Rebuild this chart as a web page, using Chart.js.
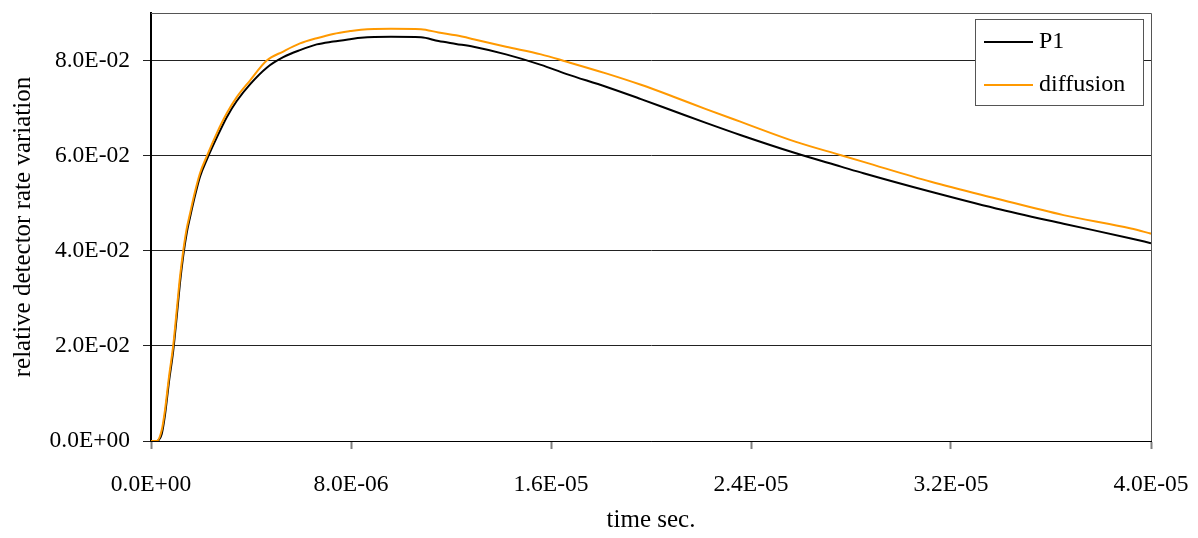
<!DOCTYPE html>
<html>
<head>
<meta charset="utf-8">
<script src="https://cdn.jsdelivr.net/npm/chart.js@4.4.1/dist/chart.umd.min.js"></script>
<style>
  html, body { margin: 0; padding: 0; background: #ffffff; }
  #c { display: block; }
</style>
</head>
<body>
<canvas id="c" width="1198" height="538"></canvas>
<script>
// ---- data (time in microseconds, values = relative detector rate variation) ----
const timeMicroSec = [0, 0.23, 0.43, 0.56, 0.72, 0.89, 1.03, 1.16, 1.29, 1.43, 1.56, 1.76, 1.96, 2.25, 2.63, 3.03, 3.43, 3.96, 4.63, 5.29, 5.96, 6.63, 7.29, 7.96, 8.4, 9.6, 10.8, 11.5, 12.2, 12.9, 14.2, 15.6, 16.6, 18.2, 19.6, 20.9, 22.2, 23.6, 25.8, 27.6, 28.5, 31.2, 33.8, 36.5, 39.2, 40];
const p1Values = [0, 0, 0.0015, 0.0055, 0.0125, 0.0190, 0.0262, 0.0333, 0.0390, 0.0438, 0.0470, 0.0516, 0.0556, 0.0594, 0.0638, 0.0681, 0.0715, 0.0750, 0.0785, 0.0807, 0.0822, 0.0834, 0.0840, 0.0845, 0.0848, 0.0850, 0.0849, 0.0841, 0.0835, 0.0829, 0.0813, 0.0791, 0.0772, 0.0745, 0.0719, 0.0694, 0.0669, 0.0643, 0.0605, 0.0577, 0.0563, 0.0524, 0.0489, 0.0457, 0.0426, 0.0416];
const diffusionValues = [0, 0, 0.0023, 0.0065, 0.0135, 0.0201, 0.0275, 0.0345, 0.0400, 0.0447, 0.0478, 0.0524, 0.0563, 0.0601, 0.0647, 0.0689, 0.0723, 0.0758, 0.0800, 0.0819, 0.0836, 0.0847, 0.0856, 0.0862, 0.0865, 0.0867, 0.0866, 0.0859, 0.0853, 0.0845, 0.0829, 0.0813, 0.0798, 0.0773, 0.0749, 0.0724, 0.0698, 0.0671, 0.0629, 0.0601, 0.0587, 0.0545, 0.0510, 0.0475, 0.0447, 0.0436];
const seriesNames = ['P1', 'diffusion'];
const xTicks = [0, 8e-6, 1.6e-5, 2.4e-5, 3.2e-5, 4e-5];
const xTickLabels = ['0.0E+00', '8.0E-06', '1.6E-05', '2.4E-05', '3.2E-05', '4.0E-05'];
const yTicks = [0, 0.02, 0.04, 0.06, 0.08];
const yTickLabels = ['0.0E+00', '2.0E-02', '4.0E-02', '6.0E-02', '8.0E-02'];
const xTitle = 'time sec.';
const yTitle = 'relative detector rate variation';

const FONT = 'Liberation Serif, Times New Roman, serif';
const toPoints = (vals) => vals.map((v, i) => ({ x: timeMicroSec[i] * 1e-6, y: v }));

// plot frame (top + right border)
const frame = {
  id: 'frame',
  afterDatasetsDraw(chart) {
    const { ctx, chartArea: a } = chart;
    ctx.save();
    ctx.strokeStyle = '#555555';
    ctx.lineWidth = 1;
    ctx.beginPath();
    ctx.moveTo(a.left, a.top + 0.5);
    ctx.lineTo(a.right + 0.5, a.top + 0.5);
    ctx.lineTo(a.right + 0.5, a.bottom);
    ctx.stroke();
    ctx.restore();
  }
};

// boxed legend inside the plot, top right
const boxLegend = {
  id: 'boxLegend',
  afterDraw(chart) {
    const { ctx, chartArea: a } = chart;
    const w = 168, h = 86;
    const left = a.right - 8 - w, top = a.top + 6;
    ctx.save();
    ctx.fillStyle = '#ffffff';
    ctx.fillRect(left, top, w, h);
    ctx.strokeStyle = '#555555';
    ctx.lineWidth = 1;
    ctx.strokeRect(left + 0.5, top + 0.5, w, h);
    ctx.font = '24px ' + FONT;
    ctx.textBaseline = 'middle';
    ctx.textAlign = 'left';
    chart.data.datasets.forEach((ds, i) => {
      const yy = top + 23 + i * 43;
      ctx.strokeStyle = ds.borderColor;
      ctx.lineWidth = 2;
      ctx.beginPath();
      ctx.moveTo(left + 9, yy);
      ctx.lineTo(left + 58, yy);
      ctx.stroke();
      ctx.fillStyle = '#000000';
      ctx.fillText(ds.label, left + 64, yy);
    });
    ctx.restore();
  }
};

new Chart(document.getElementById('c'), {
  type: 'line',
  data: {
    datasets: [
      {
        label: seriesNames[0],
        data: toPoints(p1Values),
        borderColor: '#000000',
        borderWidth: 2,
        pointRadius: 0,
        cubicInterpolationMode: 'monotone',
        order: 1
      },
      {
        label: seriesNames[1],
        data: toPoints(diffusionValues),
        borderColor: '#FF9900',
        borderWidth: 2,
        pointRadius: 0,
        cubicInterpolationMode: 'monotone',
        order: 0
      }
    ]
  },
  options: {
    responsive: false,
    animation: false,
    devicePixelRatio: 1,
    layout: { padding: { top: 13, right: 47, left: 0, bottom: 0 } },
    plugins: {
      legend: { display: false },
      tooltip: { enabled: false }
    },
    scales: {
      x: {
        type: 'linear',
        min: 0,
        max: 4e-5,
        afterBuildTicks: (axis) => { axis.ticks = xTicks.map(v => ({ value: v })); },
        afterFit: (axis) => { axis.height = 97; axis.paddingLeft = 0; axis.paddingRight = 0; },
        ticks: {
          color: '#000000',
          font: { family: FONT, size: 23.5 },
          padding: 22,
          maxRotation: 0,
          autoSkip: false,
          callback: (v, i) => xTickLabels[i]
        },
        grid: {
          drawOnChartArea: false,
          drawTicks: true,
          tickLength: 8,
          tickWidth: 2,
          tickColor: '#808080'
        },
        border: { color: '#000000', width: 1 },
        title: {
          display: true,
          text: xTitle,
          color: '#000000',
          font: { family: FONT, size: 25 },
          padding: { top: 0, bottom: 3 }
        }
      },
      y: {
        type: 'linear',
        min: 0,
        max: 0.09,
        afterBuildTicks: (axis) => { axis.ticks = yTicks.map(v => ({ value: v })); },
        afterFit: (axis) => { axis.width = 151; axis.paddingTop = 0; axis.paddingBottom = 0; },
        ticks: {
          color: '#000000',
          font: { family: FONT, size: 23.5 },
          padding: 13,
          autoSkip: false,
          callback: (v, i) => yTickLabels[i]
        },
        grid: {
          color: '#222222',
          lineWidth: 1,
          tickLength: 8,
          tickColor: '#222222'
        },
        border: { color: '#000000', width: 2 },
        title: {
          display: true,
          text: yTitle,
          color: '#000000',
          font: { family: FONT, size: 25 },
          padding: { top: 8, bottom: 0 }
        }
      }
    }
  },
  plugins: [frame, boxLegend]
});
</script>
</body>
</html>
